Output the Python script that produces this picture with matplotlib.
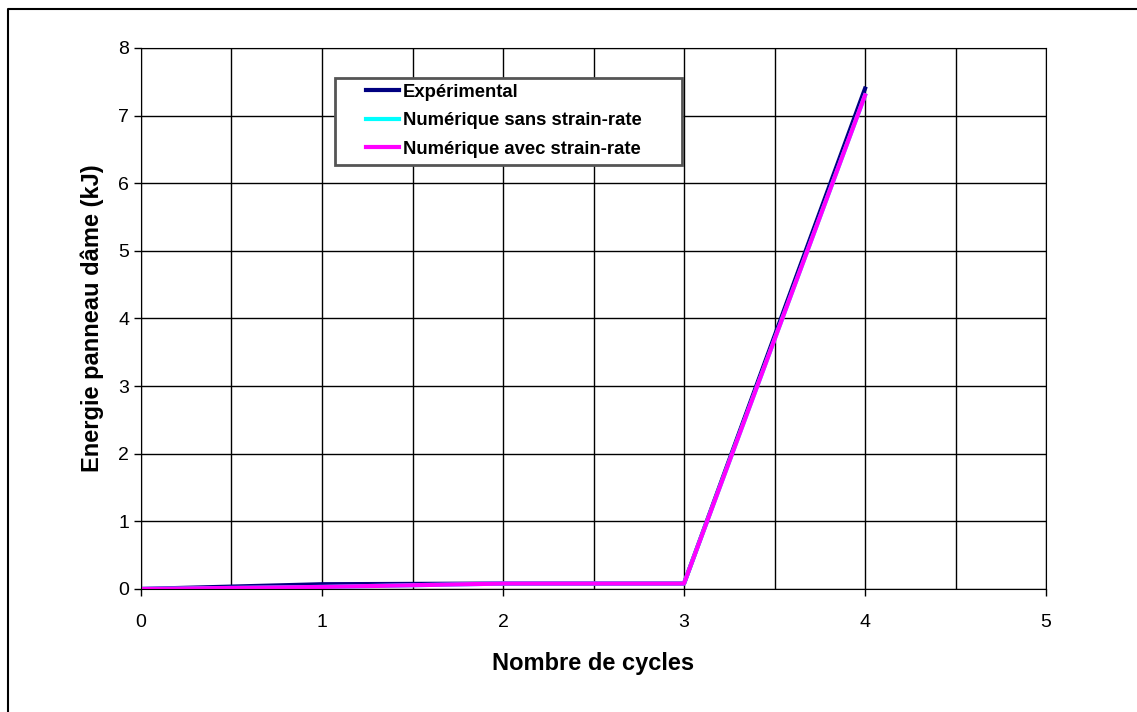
import matplotlib
matplotlib.use("Agg")
from matplotlib import pyplot as plt
from matplotlib.lines import Line2D
from matplotlib.patches import Rectangle

plt.rcParams['font.family'] = ['Liberation Sans', 'DejaVu Sans']

# data
cycles = [0, 1, 2, 3, 4]
experimental = [0, 0.07, 0.08, 0.08, 7.40]
sans_strain = [0, 0.03, 0.08, 0.08, 7.30]
avec_strain = [0, 0.03, 0.08, 0.08, 7.30]

fig = plt.figure(figsize=(11.37, 7.12), dpi=100)
ax = fig.add_axes([0.124, 0.1728, 0.796, 0.7598])

ax.plot(cycles, experimental, color="#000080", lw=3, label="Expérimental")
ax.plot(cycles, sans_strain, color="#00ffff", lw=3, label="Numérique sans strain-rate")
ax.plot(cycles, avec_strain, color="#ff00ff", lw=3, label="Numérique avec strain-rate")

ax.set_xlim(0, 5)
ax.set_ylim(0, 8)
ax.set_xticks(range(0, 6))
ax.set_yticks(range(0, 9))
ax.set_xticks([0.5, 1.5, 2.5, 3.5, 4.5], minor=True)
ax.tick_params(which="minor", length=0)
ax.tick_params(which="major", length=5, width=1, labelsize=14, color="black")
ax.tick_params(axis="x", pad=13)
ax.grid(True, which="both", color="black", lw=1)
ax.set_axisbelow(True)
for s in ax.spines.values():
    s.set_color("black")

ax.set_xlabel("Nombre de cycles", fontsize=17, fontweight="bold", labelpad=15)
ax.set_ylabel("Energie panneau dâme (kJ)", fontsize=17, fontweight="bold", labelpad=10)

# legend box drawn separately (wider than its content, as in the original)
ax.add_patch(Rectangle((0.2144, 0.7837), 0.3834, 0.1608, transform=ax.transAxes,
                       facecolor="white", edgecolor="#555555", lw=2, zorder=5))
leg = ax.legend(loc="upper left", bbox_to_anchor=(0.2486, 0.934), frameon=False,
                handlelength=1.8, handletextpad=0.2, borderpad=0, borderaxespad=0,
                labelspacing=0.62, prop={"weight": "bold", "size": 13.3})
leg.set_zorder(6)

# outer frame (runs off the right and bottom edges)
fig.add_artist(Line2D([0.007, 0.007, 1.0], [0.0, 0.987, 0.987], color="black", lw=1.5))

fig.savefig("out.png", dpi=100)
